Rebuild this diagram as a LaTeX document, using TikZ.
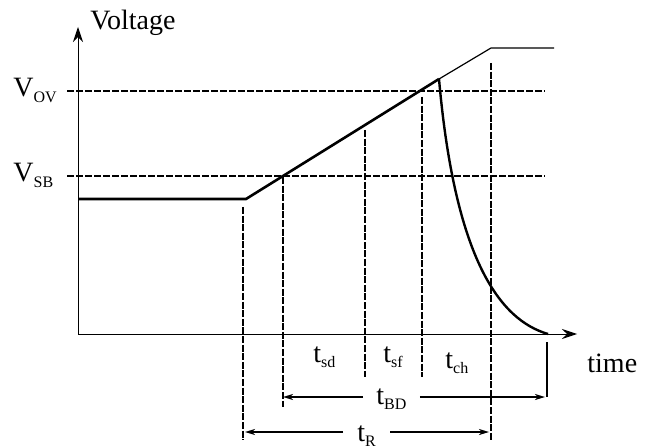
\documentclass[tikz,border=0pt]{standalone}
\usepackage{fontspec}
\setmainfont{Liberation Serif}
\usepackage{tikz}
\usetikzlibrary{arrows.meta,positioning,calc}

\newcommand{\lsub}[1]{\raisebox{-2.8pt}{\fontsize{8}{9}\selectfont #1}}

\tikzset{
    lbl/.style={inner sep=0pt, font=\fontsize{14}{16}\selectfont},
    level/.style={line width=0.9pt, dash pattern=on 3.5pt off 1pt},
    marker/.style={line width=0.9pt, dash pattern=on 3.5pt off 0.8pt},
    dimarrow/.style={line width=0.9pt, -{Stealth[length=5pt,width=3pt,inset=1.5pt]}},
    axis/.style={line width=0.5pt, -{Stealth[length=7.5pt,width=5pt,inset=2.5pt]}}
}

\begin{document}
\begin{tikzpicture}[x=0.5pt, y=-0.5pt]
    \useasboundingbox (0,0) rectangle (646,448);

    % Axes
    \coordinate (O) at (78,334);
    \draw[axis] (O) -- (78,27) coordinate (ytop);
    \draw[axis] (O) -- (577,334) coordinate (xend);
    \node[lbl, anchor=base west] (vlab) at (90,30) {Voltage};
    \node[lbl, anchor=base west] (tlab) at (587,372) {time};

    % Voltage levels
    \draw[level] (67,91) coordinate (ov1) -- (545,91) coordinate (ov2);
    \draw[level] (67,176) coordinate (sb1) -- (545,176) coordinate (sb2);
    \node[lbl, anchor=base west] (vov) at (13,97) {V\lsub{OV}};
    \node[lbl, anchor=base west] (vsb) at (13,182) {V\lsub{SB}};

    % Voltage waveform
    \coordinate (start) at (78,199);
    \coordinate (knee) at (246,199);
    \coordinate (peak) at (439,79);
    \coordinate (top) at (491,48);
    \draw[line width=1.3pt] (start) -- (knee) -- (peak);
    \draw[line width=0.6pt] (peak) -- (top) -- (554,48);
    \draw[line width=1.2pt] (peak) .. controls (455,260) and (500,320) .. (548,334) coordinate (fall);

    % Time markers
    \draw[marker] (243,207) -- (243,440) coordinate (rL);
    \draw[marker] (283,177) -- (283,407) coordinate (bdL);
    \draw[marker] (365,130) -- (365,377);
    \draw[marker] (422,97) -- (422,377);
    \draw[marker] (491,63) -- (491,440) coordinate (rR);
    \draw[line width=0.9pt] (547,342) -- (547,397) coordinate (bdR);

    % Interval labels
    \node[lbl, anchor=base west] (tsd) at (313,362) {t\lsub{sd}};
    \node[lbl, anchor=base west] (tsf) at (383,362) {t\lsub{sf}};
    \node[lbl, anchor=base west] (tch) at (445,368) {t\lsub{ch}};
    \node[lbl, anchor=base west, inner xsep=6.5pt] (tbd) at (363,404) {t\lsub{BD}};
    \node[lbl, anchor=base west, inner xsep=7pt] (tr) at (343,441) {t\lsub{R}};

    % Dimension arrows
    \coordinate (bdy) at (0,397);
    \coordinate (ry) at (0,432);
    \draw[dimarrow] (tbd.west |- bdy) -- (bdL |- bdy);
    \draw[dimarrow] (tbd.east |- bdy) -- ($(bdR |- bdy)+(-2,0)$);
    \draw[dimarrow] (tr.west |- ry) -- ($(rL |- ry)+(2,0)$);
    \draw[dimarrow] (tr.east |- ry) -- ($(rR |- ry)+(-2,0)$);
\end{tikzpicture}
\end{document}
